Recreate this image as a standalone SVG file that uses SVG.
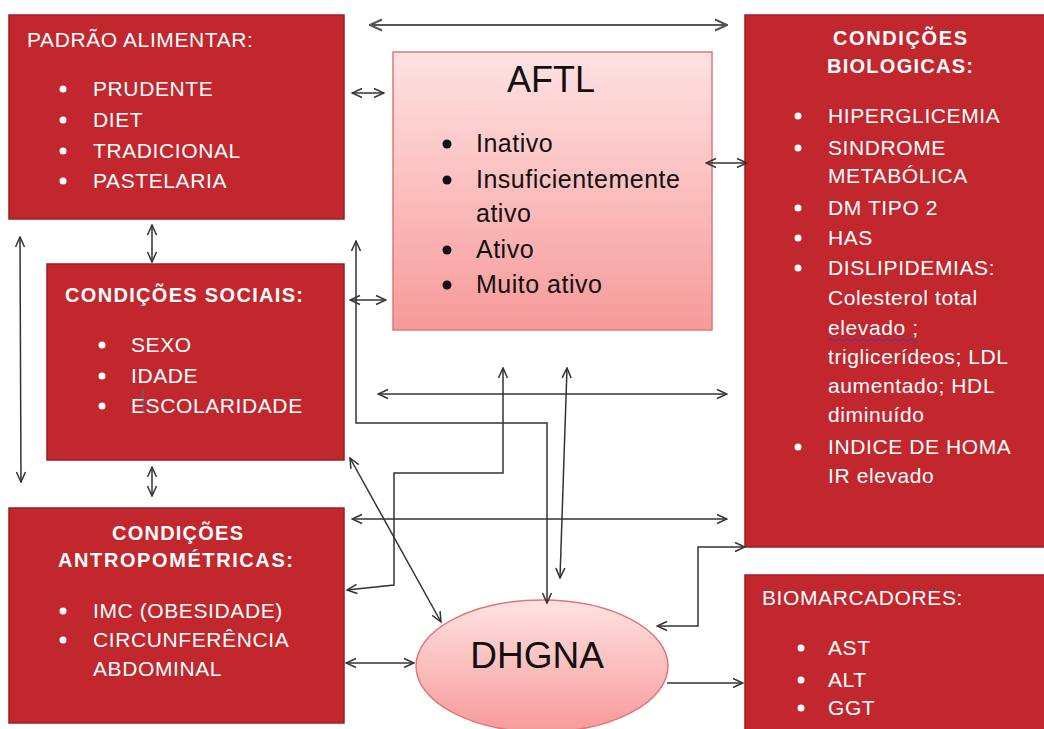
<svg xmlns="http://www.w3.org/2000/svg" width="1044" height="729" viewBox="0 0 1044 729">
<defs>
<linearGradient id="pink" x1="0" y1="0" x2="0" y2="1">
<stop offset="0" stop-color="#FFE2E2"/>
<stop offset="1" stop-color="#F79A9A"/>
</linearGradient>
<marker id="ah" viewBox="0 0 12 12" refX="11" refY="6" markerWidth="12" markerHeight="12" markerUnits="userSpaceOnUse" orient="auto-start-reverse">
<path d="M1,1.5 L11,6 L1,10.5" fill="none" stroke="#333" stroke-width="1.5"/>
</marker>
<marker id="ahg" viewBox="0 0 14 14" refX="13" refY="7" markerWidth="14" markerHeight="14" markerUnits="userSpaceOnUse" orient="auto-start-reverse">
<path d="M1,1.5 L13,7 L1,12.5" fill="none" stroke="#555" stroke-width="2"/>
</marker>
</defs>
<style>
.box{fill:#C1272D;stroke:#9E1E22;stroke-width:1.5}
.pk{fill:url(#pink);stroke:#E07878;stroke-width:1.5}
.w{fill:#FFFFFF;font-family:"Liberation Sans",Arial,sans-serif;font-size:21px;letter-spacing:0.6px}
.wb{fill:#FFFFFF;font-family:"Liberation Sans",Arial,sans-serif;font-size:20px;font-weight:bold}
.k{fill:#111;font-family:"Liberation Sans",Arial,sans-serif;font-size:25px;letter-spacing:0.5px}
.big{fill:#111;font-family:"Liberation Sans",Arial,sans-serif}
.bw{fill:#FFFFFF}
.bk{fill:#111}
.c{fill:none;stroke:#333;stroke-width:1.5;marker-start:url(#ah);marker-end:url(#ah)}
.s{fill:none;stroke:#333;stroke-width:1.5;marker-end:url(#ah)}
.g{fill:none;stroke:#555;stroke-width:2;marker-start:url(#ahg);marker-end:url(#ahg)}
</style>
<rect width="1044" height="729" fill="#FFFFFF"/>

<g id="padrao">
<rect class="box" x="9" y="15" width="335" height="204"/>
<text class="w" x="27" y="47">PADRÃO ALIMENTAR:</text>
<circle class="bw" cx="63" cy="89" r="3.5"/><text class="w" x="93" y="96">PRUDENTE</text>
<circle class="bw" cx="63" cy="120" r="3.5"/><text class="w" x="93" y="127">DIET</text>
<circle class="bw" cx="63" cy="151" r="3.5"/><text class="w" x="93" y="158">TRADICIONAL</text>
<circle class="bw" cx="63" cy="181" r="3.5"/><text class="w" x="93" y="188">PASTELARIA</text>
</g>

<g id="sociais">
<rect class="box" x="47" y="264" width="297" height="196"/>
<text class="wb" x="65" y="302" textLength="238" lengthAdjust="spacing">CONDIÇÕES SOCIAIS:</text>
<circle class="bw" cx="102" cy="345" r="3.5"/><text class="w" x="131" y="352">SEXO</text>
<circle class="bw" cx="102" cy="376" r="3.5"/><text class="w" x="131" y="383">IDADE</text>
<circle class="bw" cx="102" cy="406" r="3.5"/><text class="w" x="131" y="413">ESCOLARIDADE</text>
<line x1="143" y1="389" x2="143" y2="413" stroke="#3A7A8A" stroke-width="1"/>
</g>

<g id="antropometricas">
<rect class="box" x="9" y="508" width="335" height="215"/>
<text class="wb" x="112" y="540" textLength="131" lengthAdjust="spacing">CONDIÇÕES</text>
<text class="wb" x="58" y="567" textLength="235" lengthAdjust="spacing">ANTROPOMÉTRICAS:</text>
<circle class="bw" cx="63" cy="611" r="3.5"/><text class="w" x="93" y="618">IMC (OBESIDADE)</text>
<circle class="bw" cx="63" cy="640" r="3.5"/><text class="w" x="93" y="647">CIRCUNFERÊNCIA</text>
<text class="w" x="93" y="676">ABDOMINAL</text>
</g>

<g id="aftl">
<rect class="pk" x="393" y="52" width="319" height="278"/>
<text class="big" x="551" y="92" font-size="36" text-anchor="middle">AFTL</text>
<circle class="bk" cx="447" cy="144" r="4.5"/><text class="k" x="476" y="152">Inativo</text>
<circle class="bk" cx="447" cy="180" r="4.5"/><text class="k" x="476" y="188">Insuficientemente</text>
<text class="k" x="476" y="222">ativo</text>
<circle class="bk" cx="447" cy="250" r="4.5"/><text class="k" x="476" y="258">Ativo</text>
<circle class="bk" cx="447" cy="285" r="4.5"/><text class="k" x="476" y="293">Muito ativo</text>
</g>

<g id="biologicas">
<rect class="box" x="745" y="15" width="305" height="532"/>
<text class="wb" x="833" y="45" textLength="134" lengthAdjust="spacing">CONDIÇÕES</text>
<text class="wb" x="827" y="73" textLength="146" lengthAdjust="spacing">BIOLOGICAS:</text>
<circle class="bw" cx="798" cy="116" r="3.5"/><text class="w" x="828" y="123">HIPERGLICEMIA</text>
<circle class="bw" cx="798" cy="148" r="3.5"/><text class="w" x="828" y="155">SINDROME</text>
<text class="w" x="828" y="183">METABÓLICA</text>
<circle class="bw" cx="798" cy="208" r="3.5"/><text class="w" x="828" y="215">DM TIPO 2</text>
<circle class="bw" cx="798" cy="238" r="3.5"/><text class="w" x="828" y="245">HAS</text>
<circle class="bw" cx="798" cy="268" r="3.5"/><text class="w" x="828" y="275">DISLIPIDEMIAS:</text>
<text class="w" x="828" y="305">Colesterol total</text>
<text class="w" x="828" y="335">elevado ;</text>
<path d="M829,340 q2,-2 4,0 t4,0 t4,0 t4,0 t4,0 t4,0 t4,0 t4,0 t4,0 t4,0 t4,0 t4,0 t4,0 t4,0 t4,0 t4,0 t4,0 t4,0 t4,0 t4,0 t4,0 t4,0" fill="none" stroke="#3A3AB0" stroke-width="1"/>
<text class="w" x="828" y="364">triglicerídeos; LDL</text>
<text class="w" x="828" y="393">aumentado; HDL</text>
<text class="w" x="828" y="422">diminuído</text>
<circle class="bw" cx="798" cy="447" r="3.5"/><text class="w" x="828" y="454">INDICE DE HOMA</text>
<text class="w" x="828" y="483">IR elevado</text>
</g>

<g id="biomarcadores">
<rect class="box" x="745" y="575" width="305" height="160"/>
<text class="w" x="762" y="605">BIOMARCADORES:</text>
<circle class="bw" cx="801" cy="648" r="3.5"/><text class="w" x="828" y="655">AST</text>
<circle class="bw" cx="801" cy="680" r="3.5"/><text class="w" x="828" y="687">ALT</text>
<circle class="bw" cx="801" cy="708" r="3.5"/><text class="w" x="828" y="715">GGT</text>
</g>

<g id="dhgna">
<ellipse class="pk" cx="542" cy="666" rx="126" ry="66" stroke="#D45A5A"/>
<text class="big" x="537" y="668" font-size="37" text-anchor="middle">DHGNA</text>
</g>

<g id="connectors">
<path class="g" d="M370,25 L727,25"/>
<path class="c" d="M352,93 L384,93"/>
<path class="c" d="M706,163 L747,163"/>
<path class="c" d="M152,225 L152,262"/>
<path class="c" d="M20,237 L21,482"/>
<path class="c" d="M152,467 L152,496"/>
<path class="c" d="M350,300 L386,300"/>
<path class="c" d="M356,241 L356,423 L547,423 L547,603"/>
<path class="c" d="M378,394 L727,394"/>
<path class="c" d="M503,368 L503,473 L394,473 L394,585 L347,590"/>
<path class="c" d="M350,458 L441,622"/>
<path class="c" d="M352,519 L727,519"/>
<path class="c" d="M567,368 L560,578"/>
<path class="c" d="M745,547 L698,547 L698,626 L657,626"/>
<path class="c" d="M346,663 L414,663"/>
<path class="s" d="M667,683 L743,683"/>
</g>
</svg>
